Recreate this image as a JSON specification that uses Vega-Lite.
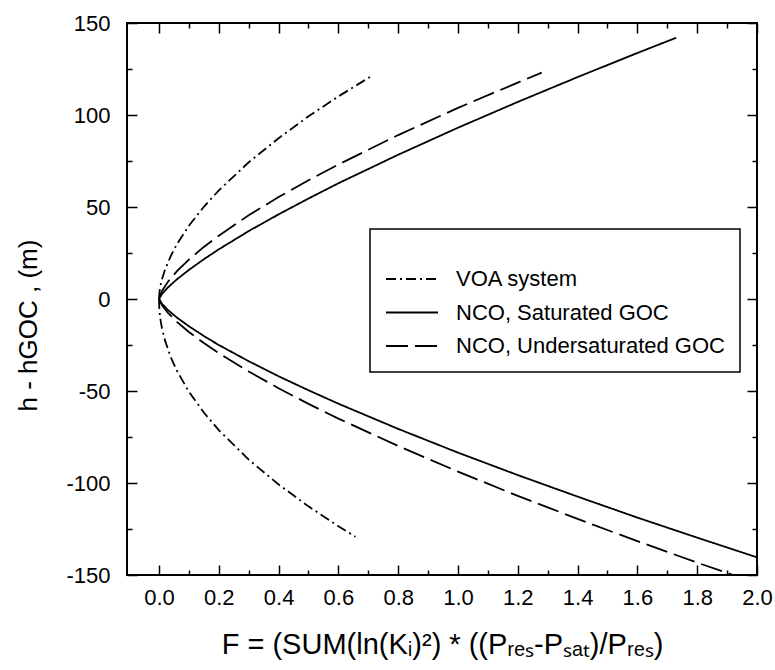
{
  "$schema": "https://vega.github.io/schema/vega-lite/v6.json",
  "autosize": "none",
  "width": 630,
  "height": 552,
  "padding": {"left": 127, "top": 23, "right": 18, "bottom": 95},
  "background": "white",
  "datasets": {
    "curves": [
      {"s": "VOA system", "b": "up", "F": 0, "h": 0},
      {"s": "VOA system", "b": "up", "F": 0.002, "h": 4.3},
      {"s": "VOA system", "b": "up", "F": 0.005, "h": 7.3},
      {"s": "VOA system", "b": "up", "F": 0.01, "h": 10.8},
      {"s": "VOA system", "b": "up", "F": 0.02, "h": 15.9},
      {"s": "VOA system", "b": "up", "F": 0.04, "h": 23.6},
      {"s": "VOA system", "b": "up", "F": 0.06, "h": 29.8},
      {"s": "VOA system", "b": "up", "F": 0.1, "h": 39.8},
      {"s": "VOA system", "b": "up", "F": 0.15, "h": 50.1},
      {"s": "VOA system", "b": "up", "F": 0.2, "h": 59.0},
      {"s": "VOA system", "b": "up", "F": 0.3, "h": 74.3},
      {"s": "VOA system", "b": "up", "F": 0.4, "h": 87.4},
      {"s": "VOA system", "b": "up", "F": 0.5, "h": 99.3},
      {"s": "VOA system", "b": "up", "F": 0.6, "h": 110.1},
      {"s": "VOA system", "b": "up", "F": 0.714, "h": 121.5},
      {"s": "VOA system", "b": "down", "F": 0, "h": 0},
      {"s": "VOA system", "b": "down", "F": 0.001, "h": -5.0},
      {"s": "VOA system", "b": "down", "F": 0.003, "h": -8.7},
      {"s": "VOA system", "b": "down", "F": 0.006, "h": -12.3},
      {"s": "VOA system", "b": "down", "F": 0.01, "h": -15.9},
      {"s": "VOA system", "b": "down", "F": 0.02, "h": -22.5},
      {"s": "VOA system", "b": "down", "F": 0.04, "h": -31.9},
      {"s": "VOA system", "b": "down", "F": 0.06, "h": -39.0},
      {"s": "VOA system", "b": "down", "F": 0.1, "h": -50.4},
      {"s": "VOA system", "b": "down", "F": 0.15, "h": -61.7},
      {"s": "VOA system", "b": "down", "F": 0.2, "h": -71.3},
      {"s": "VOA system", "b": "down", "F": 0.3, "h": -87.3},
      {"s": "VOA system", "b": "down", "F": 0.4, "h": -100.8},
      {"s": "VOA system", "b": "down", "F": 0.5, "h": -112.7},
      {"s": "VOA system", "b": "down", "F": 0.6, "h": -123.5},
      {"s": "VOA system", "b": "down", "F": 0.657, "h": -129.2},
      {"s": "NCO, Saturated GOC", "b": "up", "F": 0, "h": 0},
      {"s": "NCO, Saturated GOC", "b": "up", "F": 0.01, "h": 2.7},
      {"s": "NCO, Saturated GOC", "b": "up", "F": 0.03, "h": 6.3},
      {"s": "NCO, Saturated GOC", "b": "up", "F": 0.06, "h": 10.7},
      {"s": "NCO, Saturated GOC", "b": "up", "F": 0.1, "h": 15.8},
      {"s": "NCO, Saturated GOC", "b": "up", "F": 0.15, "h": 21.6},
      {"s": "NCO, Saturated GOC", "b": "up", "F": 0.2, "h": 27.0},
      {"s": "NCO, Saturated GOC", "b": "up", "F": 0.3, "h": 36.9},
      {"s": "NCO, Saturated GOC", "b": "up", "F": 0.4, "h": 46.0},
      {"s": "NCO, Saturated GOC", "b": "up", "F": 0.5, "h": 54.6},
      {"s": "NCO, Saturated GOC", "b": "up", "F": 0.6, "h": 62.9},
      {"s": "NCO, Saturated GOC", "b": "up", "F": 0.8, "h": 78.4},
      {"s": "NCO, Saturated GOC", "b": "up", "F": 1.0, "h": 93.1},
      {"s": "NCO, Saturated GOC", "b": "up", "F": 1.2, "h": 107.1},
      {"s": "NCO, Saturated GOC", "b": "up", "F": 1.4, "h": 120.6},
      {"s": "NCO, Saturated GOC", "b": "up", "F": 1.6, "h": 133.7},
      {"s": "NCO, Saturated GOC", "b": "up", "F": 1.73, "h": 142},
      {"s": "NCO, Saturated GOC", "b": "down", "F": 0, "h": 0},
      {"s": "NCO, Saturated GOC", "b": "down", "F": 0.01, "h": -2.6},
      {"s": "NCO, Saturated GOC", "b": "down", "F": 0.03, "h": -6.0},
      {"s": "NCO, Saturated GOC", "b": "down", "F": 0.06, "h": -10.1},
      {"s": "NCO, Saturated GOC", "b": "down", "F": 0.1, "h": -14.8},
      {"s": "NCO, Saturated GOC", "b": "down", "F": 0.15, "h": -20.1},
      {"s": "NCO, Saturated GOC", "b": "down", "F": 0.2, "h": -25.0},
      {"s": "NCO, Saturated GOC", "b": "down", "F": 0.3, "h": -33.8},
      {"s": "NCO, Saturated GOC", "b": "down", "F": 0.4, "h": -42.0},
      {"s": "NCO, Saturated GOC", "b": "down", "F": 0.5, "h": -49.6},
      {"s": "NCO, Saturated GOC", "b": "down", "F": 0.6, "h": -56.9},
      {"s": "NCO, Saturated GOC", "b": "down", "F": 0.8, "h": -70.6},
      {"s": "NCO, Saturated GOC", "b": "down", "F": 1.0, "h": -83.5},
      {"s": "NCO, Saturated GOC", "b": "down", "F": 1.2, "h": -95.7},
      {"s": "NCO, Saturated GOC", "b": "down", "F": 1.4, "h": -107.4},
      {"s": "NCO, Saturated GOC", "b": "down", "F": 1.6, "h": -118.8},
      {"s": "NCO, Saturated GOC", "b": "down", "F": 1.8, "h": -129.7},
      {"s": "NCO, Saturated GOC", "b": "down", "F": 2.0, "h": -140.4},
      {"s": "NCO, Undersaturated GOC", "b": "up", "F": 0, "h": 0},
      {"s": "NCO, Undersaturated GOC", "b": "up", "F": 0.01, "h": 4.4},
      {"s": "NCO, Undersaturated GOC", "b": "up", "F": 0.03, "h": 9.4},
      {"s": "NCO, Undersaturated GOC", "b": "up", "F": 0.06, "h": 15.1},
      {"s": "NCO, Undersaturated GOC", "b": "up", "F": 0.1, "h": 21.4},
      {"s": "NCO, Undersaturated GOC", "b": "up", "F": 0.15, "h": 28.3},
      {"s": "NCO, Undersaturated GOC", "b": "up", "F": 0.2, "h": 34.4},
      {"s": "NCO, Undersaturated GOC", "b": "up", "F": 0.3, "h": 45.5},
      {"s": "NCO, Undersaturated GOC", "b": "up", "F": 0.4, "h": 55.4},
      {"s": "NCO, Undersaturated GOC", "b": "up", "F": 0.5, "h": 64.5},
      {"s": "NCO, Undersaturated GOC", "b": "up", "F": 0.6, "h": 73.1},
      {"s": "NCO, Undersaturated GOC", "b": "up", "F": 0.8, "h": 89.1},
      {"s": "NCO, Undersaturated GOC", "b": "up", "F": 1.0, "h": 103.9},
      {"s": "NCO, Undersaturated GOC", "b": "up", "F": 1.2, "h": 117.6},
      {"s": "NCO, Undersaturated GOC", "b": "up", "F": 1.28, "h": 123},
      {"s": "NCO, Undersaturated GOC", "b": "down", "F": 0, "h": 0},
      {"s": "NCO, Undersaturated GOC", "b": "down", "F": 0.01, "h": -3.4},
      {"s": "NCO, Undersaturated GOC", "b": "down", "F": 0.03, "h": -7.5},
      {"s": "NCO, Undersaturated GOC", "b": "down", "F": 0.06, "h": -12.4},
      {"s": "NCO, Undersaturated GOC", "b": "down", "F": 0.1, "h": -17.9},
      {"s": "NCO, Undersaturated GOC", "b": "down", "F": 0.15, "h": -23.9},
      {"s": "NCO, Undersaturated GOC", "b": "down", "F": 0.2, "h": -29.4},
      {"s": "NCO, Undersaturated GOC", "b": "down", "F": 0.3, "h": -39.4},
      {"s": "NCO, Undersaturated GOC", "b": "down", "F": 0.4, "h": -48.5},
      {"s": "NCO, Undersaturated GOC", "b": "down", "F": 0.5, "h": -57.0},
      {"s": "NCO, Undersaturated GOC", "b": "down", "F": 0.6, "h": -65.0},
      {"s": "NCO, Undersaturated GOC", "b": "down", "F": 0.8, "h": -79.9},
      {"s": "NCO, Undersaturated GOC", "b": "down", "F": 1.0, "h": -93.8},
      {"s": "NCO, Undersaturated GOC", "b": "down", "F": 1.2, "h": -107.0},
      {"s": "NCO, Undersaturated GOC", "b": "down", "F": 1.4, "h": -119.5},
      {"s": "NCO, Undersaturated GOC", "b": "down", "F": 1.6, "h": -131.6},
      {"s": "NCO, Undersaturated GOC", "b": "down", "F": 1.8, "h": -143.3},
      {"s": "NCO, Undersaturated GOC", "b": "down", "F": 1.92, "h": -150}
    ]
  },
  "data": {"name": "curves"},
  "resolve": {"axis": {"x": "independent", "y": "independent"}},
  "layer": [
    {
      "transform": [{"filter": "datum.b == 'up' && datum.s != 'VOA system'"}],
      "mark": {"type": "line", "color": "black", "strokeWidth": 1.8, "clip": true},
      "encoding": {
        "x": {"field": "F", "type": "quantitative",
          "scale": {"domain": [-0.107, 2.0], "nice": false, "zero": false},
          "axis": {"orient": "bottom", "values": [0, 0.2, 0.4, 0.6, 0.8, 1.0, 1.2, 1.4, 1.6, 1.8, 2.0],
            "tickSize": -10, "labelPadding": 22, "format": ".1f", "labelFlush": false, "labelOverlap": false, "labelBound": false,
            "labelFontSize": 22,
            "title": "F = (SUM(ln(Kᵢ)²) * ((Pᵣₑₛ-Pₛₐₜ)/Pᵣₑₛ)", "titlePadding": 22, "titleFontSize": 29}},
        "y": {"field": "h", "type": "quantitative",
          "scale": {"domain": [-150, 150], "nice": false, "zero": false},
          "axis": {"orient": "left", "values": [-150, -100, -50, 0, 50, 100, 150],
            "tickSize": -10, "labelPadding": 27, "labelExpr": "'' + datum.value", "labelFlush": false, "labelOverlap": false, "labelBound": false,
            "labelFontSize": 22,
            "title": "h - hGOC , (m)", "titlePadding": 24, "titleY": 302}},
        "strokeDash": {"field": "s", "type": "nominal",
          "scale": {"domain": ["VOA system", "NCO, Saturated GOC", "NCO, Undersaturated GOC"], "range": [[10, 4, 2, 4], [1, 0], [22, 7]]},
          "title": " "},
        "detail": {"field": "s"}
      }
    },
    {
      "transform": [{"filter": "datum.b == 'down' && datum.s != 'VOA system'"}],
      "mark": {"type": "line", "color": "black", "strokeWidth": 1.8, "clip": true},
      "encoding": {
        "x": {"field": "F", "type": "quantitative",
          "axis": {"orient": "top", "values": [0, 0.2, 0.4, 0.6, 0.8, 1.0, 1.2, 1.4, 1.6, 1.8, 2.0],
            "tickSize": -10, "labels": false, "title": null}},
        "y": {"field": "h", "type": "quantitative",
          "axis": {"orient": "right", "values": [-150, -100, -50, 0, 50, 100, 150],
            "tickSize": -10, "labels": false, "title": null}},
        "strokeDash": {"field": "s", "type": "nominal", "title": " "},
        "detail": {"field": "s"}
      }
    },
    {
      "transform": [{"filter": "datum.b == 'up' && datum.s == 'VOA system'"}],
      "mark": {"type": "line", "color": "black", "strokeWidth": 1.8, "clip": true},
      "encoding": {
        "x": {"field": "F", "type": "quantitative",
          "axis": {"orient": "bottom", "values": [0.1, 0.3, 0.5, 0.7, 0.9, 1.1, 1.3, 1.5, 1.7, 1.9],
            "tickSize": -5, "labels": false, "title": null}},
        "y": {"field": "h", "type": "quantitative",
          "axis": {"orient": "left", "values": [-125, -75, -25, 25, 75, 125],
            "tickSize": -5, "labels": false, "title": null}},
        "strokeDash": {"field": "s", "type": "nominal", "title": " "}
      }
    },
    {
      "transform": [{"filter": "datum.b == 'down' && datum.s == 'VOA system'"}],
      "mark": {"type": "line", "color": "black", "strokeWidth": 1.8, "clip": true},
      "encoding": {
        "x": {"field": "F", "type": "quantitative",
          "axis": {"orient": "top", "values": [0.1, 0.3, 0.5, 0.7, 0.9, 1.1, 1.3, 1.5, 1.7, 1.9],
            "tickSize": -5, "labels": false, "title": null}},
        "y": {"field": "h", "type": "quantitative",
          "axis": {"orient": "right", "values": [-125, -75, -25, 25, 75, 125],
            "tickSize": -5, "labels": false, "title": null}},
        "strokeDash": {"field": "s", "type": "nominal", "title": " "}
      }
    }
  ],
  "config": {
    "view": {"stroke": "black", "strokeWidth": 2},
    "axis": {
      "domain": false, "grid": false, "ticks": true,
      "tickColor": "black", "tickWidth": 1.5,
      "labelFont": "Liberation Sans", "labelFontSize": 21, "labelColor": "black",
      "titleFont": "Liberation Sans", "titleFontSize": 26, "titleFontWeight": "normal", "titleColor": "black"
    },
    "legend": {
      "orient": "none", "legendX": 243, "legendY": 206,
      "strokeColor": "black", "strokeWidth": 1.5, "fillColor": "white", "padding": 15,
      "symbolType": "M-2,0H2", "symbolSize": 676, "symbolOffset": 13, "symbolStrokeWidth": 2, "symbolStrokeColor": "black",
      "labelFont": "Liberation Sans", "labelFontSize": 22, "labelColor": "black", "labelOffset": 30, "labelLimit": 400,
      "rowPadding": 8.5, "titleFont": "Liberation Sans", "titleFontSize": 16, "titlePadding": 5
    }
  }
}
